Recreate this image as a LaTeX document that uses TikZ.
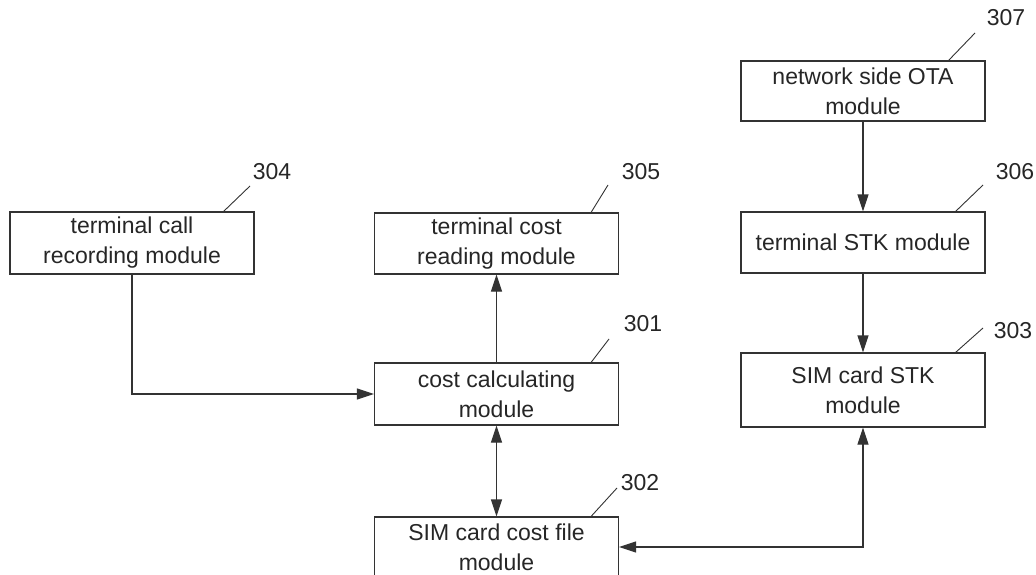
\documentclass[tikz,border=0pt]{standalone}
\usepackage{fontspec}
\setmainfont{Liberation Sans}
\usetikzlibrary{arrows.meta}
\begin{document}
\begin{tikzpicture}[x=1pt,y=-1pt,
  box/.style={draw=black!80, line width=1.1pt, minimum width=244pt, inner sep=0pt,
    align=center, font=\fontsize{23}{30}\selectfont, text=black!85},
  conn/.style={draw=black!80, line width=1.1pt},
  tip/.style={-{Triangle[length=17pt,width=11pt]}},
  dtip/.style={{Triangle[length=17pt,width=11pt]}-{Triangle[length=17pt,width=11pt]}},
  leader/.style={draw=black!80, line width=0.9pt},
  lbl/.style={font=\fontsize{23}{26}\selectfont, text=black!85, inner sep=0pt}]
\useasboundingbox (0,0) rectangle (1036,575);
% boxes
\node[box, minimum height=62pt] (n304) at (132,243) {terminal call\\recording module};
\node[box, minimum height=61pt] (n305) at (496.5,243.5) {terminal cost\\reading module};
\node[box, minimum height=62pt] (n301) at (496.5,394) {cost calculating\\module};
\node[box, minimum height=60pt] (n302) at (496.5,547) {SIM card cost file\\module};
\node[box, minimum height=60pt] (n307) at (863,91) {network side OTA\\module};
\node[box, minimum height=61pt] (n306) at (863,242.5) {terminal STK module};
\node[box, minimum height=74pt] (n303) at (863,390) {SIM card STK\\module};
% connectors
\draw[conn, tip] (n304.south) |- (n301.west);
\draw[conn, tip] (n301.north) -- (n305.south);
\draw[conn, dtip] (n301.south) -- (n302.north);
\draw[conn, tip] (n307.south) -- (n306.north);
\draw[conn, tip] (n306.south) -- (n303.north);
\draw[conn, dtip] (n303.south) |- (n302.east);
% labels and leaders
\coordinate (e304) at (250,186);
\coordinate (e305) at (608,185);
\coordinate (e301) at (609,339);
\coordinate (e302) at (617,488);
\coordinate (e307) at (975,33);
\coordinate (e306) at (983,185);
\coordinate (e303) at (983,328);
\draw[leader] ([xshift=-31pt]n304.north east) -- (e304);
\draw[leader] ([xshift=-28pt]n305.north east) -- (e305);
\draw[leader] ([xshift=-28pt]n301.north east) -- (e301);
\draw[leader] ([xshift=-28pt]n302.north east) -- (e302);
\draw[leader] ([xshift=-37pt]n307.north east) -- (e307);
\draw[leader] ([xshift=-30pt]n306.north east) -- (e306);
\draw[leader] ([xshift=-30pt]n303.north east) -- (e303);
\node[lbl] (t304) at (272,172) {304};
\node[lbl] (t305) at (641,172) {305};
\node[lbl] (t301) at (643,324) {301};
\node[lbl] (t302) at (640,483) {302};
\node[lbl] (t307) at (1006,18) {307};
\node[lbl] (t306) at (1015,172) {306};
\node[lbl] (t303) at (1013,331) {303};
\end{tikzpicture}
\end{document}
